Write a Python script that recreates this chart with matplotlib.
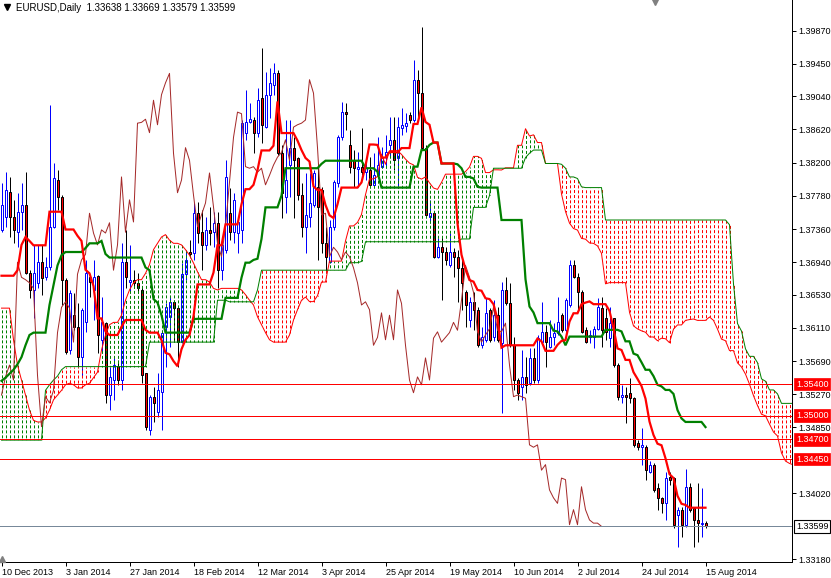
import numpy as np
import matplotlib
matplotlib.use("Agg")
import matplotlib.pyplot as plt
from matplotlib.collections import LineCollection
import matplotlib.transforms as mtransforms

# ---------------- data (EURUSD daily) ----------------
opens = [
1.3735, 1.3751, 1.3783, 1.3751, 1.3732, 1.3758, 1.3766, 1.3680, 1.3659, 1.3668,
1.3694, 1.3675, 1.3688, 1.3739, 1.3798, 1.3777, 1.3672, 1.3583, 1.3627, 1.3612,
1.3574, 1.3618, 1.3675, 1.3659, 1.3677, 1.3596, 1.3617, 1.3526, 1.3545, 1.3563,
1.3545, 1.3694, 1.3669, 1.3672, 1.3668, 1.3659, 1.3554, 1.3482, 1.3524, 1.3505,
1.3530, 1.3612, 1.3625, 1.3644, 1.3636, 1.3593, 1.3679, 1.3707, 1.3706, 1.3756,
1.3732, 1.3716, 1.3735, 1.3732, 1.3744, 1.3684, 1.3710, 1.3756, 1.3732, 1.3731,
1.3735, 1.3858, 1.3871, 1.3874, 1.3858, 1.3902, 1.3865, 1.3906, 1.3918, 1.3933,
1.3832, 1.3777, 1.3817, 1.3839, 1.3826, 1.3779, 1.3739, 1.3751, 1.3766, 1.3789,
1.3785, 1.3718, 1.3694, 1.3739, 1.3794, 1.3852, 1.3884, 1.3842, 1.3823, 1.3812,
1.3815, 1.3808, 1.3811, 1.3792, 1.3804, 1.3815, 1.3827, 1.3842, 1.3849, 1.3826,
1.3864, 1.3866, 1.3880, 1.3874, 1.3925, 1.3908, 1.3839, 1.3751, 1.3756, 1.3701,
1.3713, 1.3707, 1.3690, 1.3707, 1.3701, 1.3687, 1.3656, 1.3621, 1.3644, 1.3634,
1.3589, 1.3596, 1.3634, 1.3599, 1.3627, 1.3592, 1.3659, 1.3642, 1.3589, 1.3545,
1.3536, 1.3549, 1.3541, 1.3573, 1.3545, 1.3593, 1.3606, 1.3587, 1.3599, 1.3605,
1.3627, 1.3608, 1.3640, 1.3690, 1.3675, 1.3656, 1.3608, 1.3599, 1.3599, 1.3610,
1.3636, 1.3623, 1.3598, 1.3623, 1.3564, 1.3524, 1.3526, 1.3529, 1.3522, 1.3465,
1.3460, 1.3460, 1.3429, 1.3438, 1.3408, 1.3396, 1.3389, 1.3422, 1.3421, 1.3374,
1.3381, 1.3362, 1.3410, 1.3383, 1.3368, 1.3363, 1.33638]

highs = [
1.3794, 1.3808, 1.3802, 1.3773, 1.3782, 1.3794, 1.3808, 1.3684, 1.3716, 1.3716,
1.3716, 1.3701, 1.3893, 1.3820, 1.3811, 1.3779, 1.3674, 1.3659, 1.3655, 1.3642,
1.3636, 1.3697, 1.3678, 1.3697, 1.3678, 1.3650, 1.3618, 1.3562, 1.3573, 1.3570,
1.3718, 1.3735, 1.3716, 1.3684, 1.3680, 1.3663, 1.3554, 1.3526, 1.3536, 1.3554,
1.3608, 1.3642, 1.3650, 1.3646, 1.3637, 1.3693, 1.3710, 1.3722, 1.3769, 1.3770,
1.3760, 1.3751, 1.3764, 1.3758, 1.3758, 1.3726, 1.3823, 1.3788, 1.3782, 1.3748,
1.3874, 1.3912, 1.3896, 1.3878, 1.3915, 1.3965, 1.3935, 1.3940, 1.3946, 1.3937,
1.3842, 1.3874, 1.3874, 1.3853, 1.3827, 1.3794, 1.3807, 1.3807, 1.3811, 1.3820,
1.3789, 1.3739, 1.3748, 1.3798, 1.3855, 1.3897, 1.3896, 1.3861, 1.3836, 1.3834,
1.3864, 1.3823, 1.3827, 1.3832, 1.3852, 1.3840, 1.3855, 1.3878, 1.3878, 1.3878,
1.3889, 1.3883, 1.3884, 1.3950, 1.3937, 1.3992, 1.3842, 1.3773, 1.3758, 1.3725,
1.3726, 1.3713, 1.3731, 1.3712, 1.3710, 1.3697, 1.3659, 1.3650, 1.3656, 1.3637,
1.3612, 1.3649, 1.3636, 1.3646, 1.3637, 1.3669, 1.3675, 1.3668, 1.3599, 1.3548,
1.3583, 1.3574, 1.3586, 1.3586, 1.3602, 1.3644, 1.3615, 1.3621, 1.3617, 1.3650,
1.3630, 1.3649, 1.3697, 1.3697, 1.3680, 1.3659, 1.3612, 1.3608, 1.3614, 1.3649,
1.3650, 1.3636, 1.3637, 1.3624, 1.3566, 1.3539, 1.3536, 1.3548, 1.3524, 1.3469,
1.3484, 1.3463, 1.3443, 1.3440, 1.3415, 1.3397, 1.3429, 1.3429, 1.3422, 1.3384,
1.3384, 1.3433, 1.3415, 1.3383, 1.3415, 1.3408, 1.33669]

lows = [
1.3732, 1.3739, 1.3726, 1.3718, 1.3713, 1.3735, 1.3679, 1.3649, 1.3623, 1.3661,
1.3653, 1.3672, 1.3684, 1.3737, 1.3760, 1.3640, 1.3578, 1.3578, 1.3608, 1.3562,
1.3549, 1.3606, 1.3650, 1.3621, 1.3579, 1.3579, 1.3516, 1.3507, 1.3520, 1.3539,
1.3532, 1.3661, 1.3655, 1.3661, 1.3655, 1.3541, 1.3482, 1.3475, 1.3492, 1.3498,
1.3482, 1.3562, 1.3587, 1.3593, 1.3562, 1.3592, 1.3672, 1.3701, 1.3697, 1.3718,
1.3684, 1.3710, 1.3716, 1.3713, 1.3661, 1.3672, 1.3706, 1.3722, 1.3718, 1.3706,
1.3718, 1.3849, 1.3870, 1.3832, 1.3853, 1.3845, 1.3864, 1.3877, 1.3906, 1.3830,
1.3750, 1.3756, 1.3777, 1.3750, 1.3773, 1.3726, 1.3706, 1.3739, 1.3764, 1.3697,
1.3706, 1.3680, 1.3693, 1.3735, 1.3789, 1.3849, 1.3861, 1.3807, 1.3789, 1.3789,
1.3804, 1.3798, 1.3789, 1.3789, 1.3802, 1.3813, 1.3813, 1.3827, 1.3811, 1.3788,
1.3855, 1.3859, 1.3870, 1.3871, 1.3874, 1.3836, 1.3751, 1.3744, 1.3699, 1.3699,
1.3646, 1.3690, 1.3688, 1.3675, 1.3644, 1.3634, 1.3612, 1.3612, 1.3608, 1.3587,
1.3585, 1.3593, 1.3593, 1.3594, 1.3593, 1.3503, 1.3640, 1.3587, 1.3532, 1.3520,
1.3520, 1.3529, 1.3539, 1.3541, 1.3541, 1.3592, 1.3562, 1.3585, 1.3589, 1.3602,
1.3606, 1.3606, 1.3637, 1.3674, 1.3634, 1.3605, 1.3592, 1.3592, 1.3585, 1.3608,
1.3587, 1.3596, 1.3587, 1.3562, 1.3520, 1.3516, 1.3491, 1.3516, 1.3460, 1.3456,
1.3438, 1.3419, 1.3427, 1.3403, 1.3381, 1.3377, 1.3368, 1.3412, 1.3358, 1.3334,
1.3346, 1.3359, 1.3378, 1.3334, 1.3340, 1.3346, 1.33579]

closes = [
1.3766, 1.3785, 1.3751, 1.3735, 1.3758, 1.3766, 1.3680, 1.3659, 1.3680, 1.3694,
1.3674, 1.3688, 1.3739, 1.3801, 1.3777, 1.3672, 1.3580, 1.3655, 1.3612, 1.3574,
1.3634, 1.3680, 1.3669, 1.3675, 1.3602, 1.3618, 1.3526, 1.3549, 1.3564, 1.3545,
1.3694, 1.3675, 1.3672, 1.3668, 1.3661, 1.3551, 1.3486, 1.3524, 1.3516, 1.3532,
1.3605, 1.3637, 1.3644, 1.3636, 1.3593, 1.3679, 1.3697, 1.3704, 1.3756, 1.3731,
1.3716, 1.3735, 1.3731, 1.3744, 1.3684, 1.3716, 1.3802, 1.3732, 1.3773, 1.3745,
1.3870, 1.3871, 1.3875, 1.3858, 1.3899, 1.3868, 1.3906, 1.3921, 1.3933, 1.3832,
1.3782, 1.3798, 1.3839, 1.3823, 1.3779, 1.3739, 1.3754, 1.3769, 1.3807, 1.3764,
1.3718, 1.3701, 1.3739, 1.3795, 1.3852, 1.3884, 1.3882, 1.3815, 1.3813, 1.3815,
1.3808, 1.3813, 1.3792, 1.3804, 1.3817, 1.3827, 1.3833, 1.3849, 1.3823, 1.3865,
1.3868, 1.3870, 1.3874, 1.3925, 1.3908, 1.3839, 1.3754, 1.3756, 1.3701, 1.3713,
1.3707, 1.3697, 1.3707, 1.3701, 1.3687, 1.3668, 1.3640, 1.3644, 1.3634, 1.3589,
1.3599, 1.3630, 1.3596, 1.3627, 1.3596, 1.3659, 1.3642, 1.3589, 1.3545, 1.3529,
1.3549, 1.3539, 1.3573, 1.3545, 1.3598, 1.3606, 1.3593, 1.3599, 1.3605, 1.3618,
1.3608, 1.3646, 1.3690, 1.3675, 1.3656, 1.3606, 1.3593, 1.3602, 1.3610, 1.3637,
1.3608, 1.3606, 1.3617, 1.3564, 1.3524, 1.3526, 1.3524, 1.3522, 1.3463, 1.3460,
1.3463, 1.3431, 1.3438, 1.3406, 1.3396, 1.3389, 1.3421, 1.3419, 1.3362, 1.3381,
1.3362, 1.3410, 1.3381, 1.3368, 1.3364, 1.3364, 1.33599]

# Ichimoku values at the left edge (their history lies before the first visible bar)
tenkan_early = [1.3677, 1.3677, 1.3677, 1.3677, 1.3684, 1.3716, 1.3726, 1.3721]
kijun_early = [1.3544, 1.3548, 1.3553, 1.3558, 1.3565, 1.3574, 1.3589, 1.3602,
               1.3605, 1.3605, 1.3605, 1.3605, 1.3640, 1.3665, 1.3690, 1.3703,
               1.3707, 1.3707, 1.3707, 1.3707, 1.3707, 1.3712, 1.3718, 1.3718, 1.3718]
spanA_early = [
1.3636, 1.3636, 1.3636, 1.3596, 1.3564, 1.3545, 1.3526, 1.3507, 1.3494, 1.3492,
1.3492, 1.3497, 1.3507, 1.3520, 1.3526, 1.3532, 1.3539, 1.3541, 1.3539, 1.3535,
1.3535, 1.3539, 1.3541, 1.3548, 1.3555, 1.3583, 1.3602, 1.3615, 1.3618, 1.3618,
1.3627, 1.3646, 1.3659, 1.3668, 1.3672, 1.3672, 1.3680, 1.3691, 1.3710, 1.3718,
1.3726, 1.3729, 1.3722, 1.3718, 1.3718, 1.3716, 1.3710, 1.3703, 1.3693, 1.3682,
1.3672, 1.3672, 1.3669, 1.3661, 1.3659, 1.3661, 1.3661, 1.3661, 1.3661, 1.3661,
1.3659, 1.3653, 1.3646, 1.3640, 1.3625, 1.3615, 1.3605, 1.3596, 1.3593, 1.3593,
1.3593, 1.3593, 1.3602, 1.3621, 1.3634, 1.3646, 1.3650]
spanB_early = ([1.3469] * 11 + [1.3532, 1.3539, 1.3545, 1.3550, 1.3558] +
               [1.3562] * 21 + [1.3593] * 17 + [1.3646] * 3 + [1.3644] * 7 +
               [1.3659] + [1.3684] * 12)

levels_red = [1.35400, 1.35000, 1.34700, 1.34450]
bid_price = 1.33599
title_text = "EURUSD,Daily  1.33638 1.33669 1.33579 1.33599"
date_labels = ["10 Dec 2013", "3 Jan 2014", "27 Jan 2014", "18 Feb 2014", "12 Mar 2014",
               "3 Apr 2014", "25 Apr 2014", "19 May 2014", "10 Jun 2014", "2 Jul 2014",
               "24 Jul 2014", "15 Aug 2014"]
date_bars = [0, 16, 32, 48, 64, 80, 96, 112, 128, 144, 160, 176]
ytick_vals = [1.39870, 1.39450, 1.39040, 1.38620, 1.38200, 1.37780, 1.37360, 1.36940,
              1.36530, 1.36110, 1.35690, 1.35270, 1.34850, 1.34020, 1.33180]

# ---------------- computations ----------------
O = np.array(opens); H = np.array(highs); L = np.array(lows); C = np.array(closes)
n = len(O)


def mid(period, i):
    s = max(0, i - period + 1)
    return (H[s:i + 1].max() + L[s:i + 1].min()) / 2


tenkan = np.array(tenkan_early + [mid(9, i) for i in range(len(tenkan_early), n)])
kijun = np.array(kijun_early + [mid(26, i) for i in range(len(kijun_early), n)])
m = len(spanA_early)
spanA = np.array(spanA_early + [(tenkan[d - 26] + kijun[d - 26]) / 2 for d in range(m, n + 26)])
spanB = np.array(spanB_early + [mid(52, d - 26) for d in range(m, n + 26)])

plt.rcParams['font.family'] = ['Liberation Sans', 'DejaVu Sans']
FS = 6.5

fig = plt.figure(figsize=(8.31, 5.78), dpi=100)
ax = fig.add_axes([0, 16 / 578, 792 / 831, 562 / 578])
ax.set_xlim(-0.375, 197.625)
ax.set_ylim(1.331481, 1.402584)

PX = 0.72  # one pixel in points

# candles
x = np.arange(n)
up = C >= O
ax.vlines(x[up], L[up], H[up], colors='#0000FF', lw=PX, zorder=2)
ax.vlines(x[~up], L[~up], H[~up], colors='black', lw=PX, zorder=2)
bot = np.minimum(O, C)
hgt = np.abs(C - O)
ax.bar(x[up], hgt[up], bottom=bot[up], width=0.5, color='white',
       edgecolor='#0000FF', linewidth=PX, zorder=3)
ax.bar(x[~up], hgt[~up], bottom=bot[~up], width=0.5, color='#FF0000',
       edgecolor='black', linewidth=PX, zorder=3)

# cloud (dotted histogram)
xs = np.arange(n + 26)
lo = np.minimum(spanA, spanB)
hi = np.maximum(spanA, spanB)
y0 = ax.transData.transform(np.column_stack([xs, lo]))[:, 1]
segs = [[(xx, a), (xx, b)] for xx, a, b in zip(xs, lo, hi)]
styles = [((v % 5), (3, 2)) for v in y0]
cols = ['#008000' if a >= b else '#FF0000' for a, b in zip(spanA, spanB)]
lc = LineCollection(segs, colors=cols, linewidths=PX, linestyles=styles, zorder=4)
ax.add_collection(lc)
ax.plot(xs, spanA, color='#FF0000', lw=PX, zorder=5)
ax.plot(xs, spanB, color='#008000', lw=PX, zorder=5)

# lines
ax.plot(np.arange(n - 26), C[26:], color='#A52A2A', lw=PX, zorder=6)
ax.plot(x, kijun, color='#008000', lw=1.6, zorder=6, solid_joinstyle='miter')
ax.plot(x, tenkan, color='#FF0000', lw=1.6, zorder=6, solid_joinstyle='miter')

for lev in levels_red:
    ax.axhline(lev, color='#FF0000', lw=PX, zorder=7)
ax.axhline(bid_price, color='#778899', lw=PX, zorder=7)

# axes styling
for s in ['top', 'left']:
    ax.spines[s].set_visible(False)
for s in ['right', 'bottom']:
    ax.spines[s].set_color('black')
    ax.spines[s].set_linewidth(PX)
ax.yaxis.tick_right()
ax.set_yticks(ytick_vals)
ax.set_yticklabels([f"{v:.5f}" for v in ytick_vals])
ax.tick_params(axis='y', length=3, width=PX, pad=1.5, labelsize=FS, colors='black')
ax.set_xticks(date_bars)
ax.set_xticklabels(date_labels)
ax.tick_params(axis='x', length=3, width=PX, pad=1.5, labelsize=FS, colors='black')
for t in ax.get_xticklabels():
    t.set_horizontalalignment('left')

trans = mtransforms.blended_transform_factory(ax.transAxes, ax.transData)
for lev in levels_red:
    ax.text(1.0 + 4 / 792, lev, f"{lev:.5f}", transform=trans, ha='left', va='center',
            fontsize=FS, color='white', clip_on=False, zorder=10,
            bbox=dict(boxstyle='square,pad=0.2', fc='#FF0000', ec='#FF0000', lw=0.5))
ax.text(1.0 + 4 / 792, bid_price, f"{bid_price:.5f}", transform=trans, ha='left', va='center',
        fontsize=FS, color='black', clip_on=False, zorder=10,
        bbox=dict(boxstyle='square,pad=0.2', fc='white', ec='black', lw=0.8))

# title and small markers
ax.plot([7 / 792], [1 - 7 / 562], marker='v', ms=4, color='black',
        transform=ax.transAxes, clip_on=False, zorder=10)
ax.text(16 / 792, 1 - 8 / 562, title_text, transform=ax.transAxes, ha='left', va='center',
        fontsize=7, color='black', zorder=10)
ax.plot([655 / 792], [1 - 2 / 562], marker='v', ms=4, color='#808080',
        transform=ax.transAxes, clip_on=False, zorder=10)
ax.plot([2 / 792], [3 / 562], marker='^', ms=4, color='#808080',
        transform=ax.transAxes, clip_on=False, zorder=10)

fig.savefig("out.png", dpi=100, facecolor='white')
